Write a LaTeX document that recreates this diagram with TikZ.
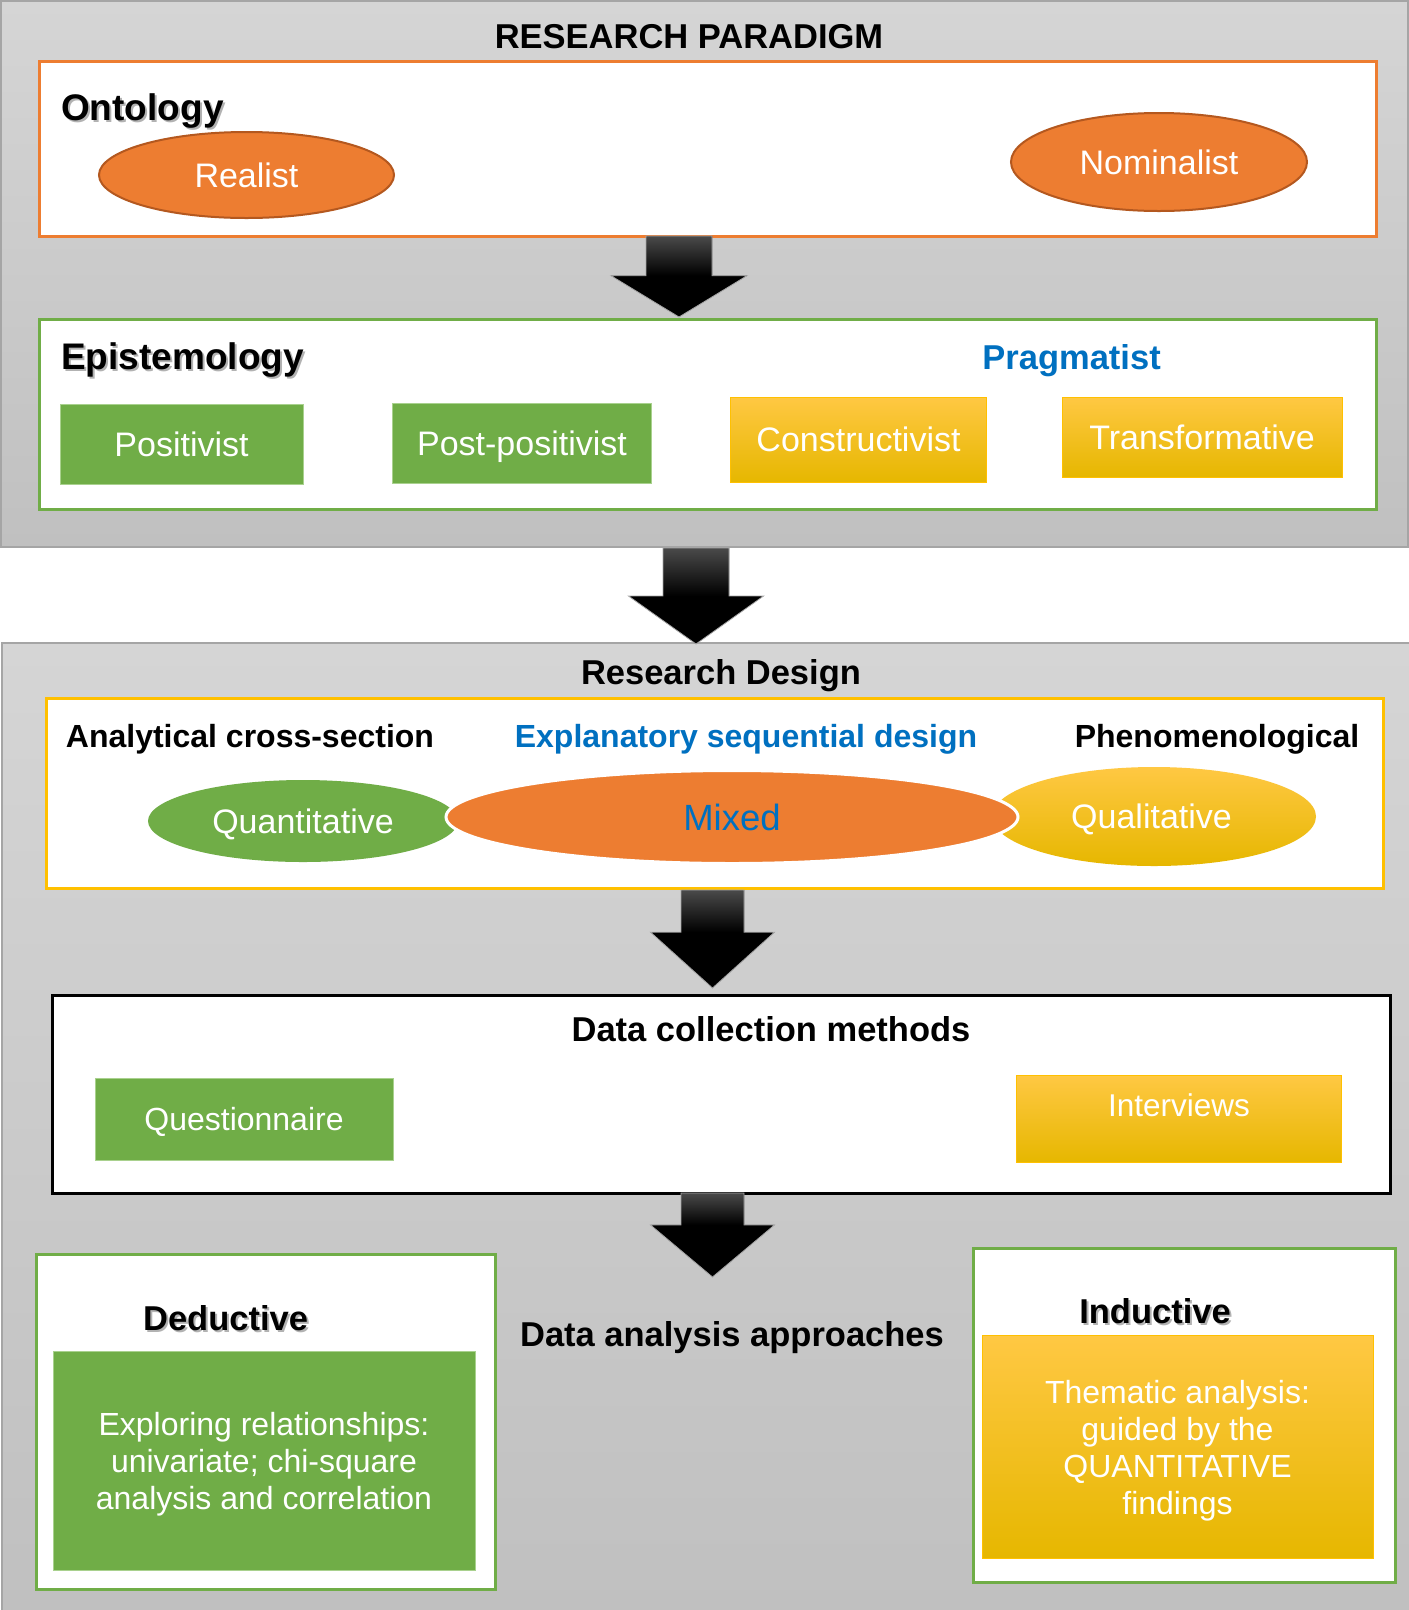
\documentclass[tikz,border=0pt]{standalone}
\usepackage{fontspec}
\setmainfont{Liberation Sans}
\usetikzlibrary{shapes.geometric,calc}
\definecolor{orng}{HTML}{ED7D31}
\definecolor{orngdk}{HTML}{B4581F}
\definecolor{grn}{HTML}{70AD47}
\definecolor{grnlt}{HTML}{A9D18E}
\definecolor{blu}{HTML}{0070C0}
\definecolor{gold}{HTML}{FFC000}
\definecolor{goldtop}{HTML}{FFC843}
\definecolor{goldmid}{HTML}{FFC400}
\definecolor{goldbot}{HTML}{E6B700}
\definecolor{paneltop}{HTML}{D5D5D5}
\definecolor{panelbot}{HTML}{C0C0C0}
\definecolor{panelbd}{HTML}{A5A5A5}
\definecolor{arrtop}{HTML}{4A4A4A}
\newcommand\shd[1]{\leavevmode\rlap{\kern2pt\raisebox{-2pt}{\color{black!30}#1}}#1}
\newcommand\blockarrow[5]{%
  \path[fill=black] let \p1=(#1), \p2=(#2), \n1={\y1+#3*(\y2-\y1)} in
  (\x1-#4pt,\y1) -- (\x1+#4pt,\y1) -- (\x1+#4pt,\n1) -- (\x1+#5pt,\n1) -- (\x2,\y2)
  -- (\x1-#5pt,\n1) -- (\x1-#4pt,\n1) -- cycle;
  \path[top color=arrtop, bottom color=black] let \p1=(#1), \p2=(#2), \n1={\y1+#3*(\y2-\y1)} in
  (\x1-#4pt,\y1) rectangle (\x1+#4pt,\n1);
  \path[draw=gray!70, line width=0.8pt] let \p1=(#1), \p2=(#2), \n1={\y1+#3*(\y2-\y1)} in
  (\x1-#4pt,\y1) -- (\x1+#4pt,\y1) -- (\x1+#4pt,\n1) -- (\x1+#5pt,\n1) -- (\x2,\y2)
  -- (\x1-#5pt,\n1) -- (\x1-#4pt,\n1) -- cycle;}
\tikzset{
  panel/.style={rectangle, draw=panelbd, line width=1.5pt, top color=paneltop, bottom color=panelbot, inner sep=0pt},
  frame/.style={rectangle, fill=white, line width=3pt, inner sep=0pt},
  gbox/.style={rectangle, fill=grn, draw=grnlt, line width=1pt, text=white, inner sep=0pt, text depth=0pt, font=\fontsize{34}{40}\selectfont},
  ybox/.style={rectangle, top color=goldtop, middle color=goldmid, bottom color=goldbot, draw=gold, line width=1pt, text=white, inner sep=0pt, text depth=0pt, font=\fontsize{34}{40}\selectfont},
  oell/.style={ellipse, fill=orng, draw=orngdk, line width=2pt, text=white, inner sep=0pt, font=\fontsize{34}{40}\selectfont},
  head/.style={inner sep=0pt, font=\bfseries\fontsize{34.5}{40}\selectfont},
  bighead/.style={inner sep=0pt, font=\bfseries\fontsize{37}{42}\selectfont},
  rowlab/.style={inner sep=0pt, font=\bfseries\fontsize{32}{38}\selectfont},
}
\begin{document}
\begin{tikzpicture}[x=1pt,y=-1pt]
\useasboundingbox (0,0) rectangle (1409,1610);
\fill[white] (0,0) rectangle (1409,1610);
% panels
\node[panel, minimum width=1407pt, minimum height=546pt] (par) at (704.5,274) {};
\node[panel, minimum width=1410pt, minimum height=970pt] (des) at (707,1128) {};
\node[head, anchor=base] (rp) at (689,48) {RESEARCH PARADIGM};
% ontology
\node[frame, draw=orng, minimum width=1337pt, minimum height=175pt] (onto) at (707.5,148.5) {};
\node[bighead, anchor=base west] (ontot) at (61,120) {\shd{Ontology}};
\node[oell, minimum width=295pt, minimum height=86pt] (real) at (246.5,175) {Realist};
\node[oell, minimum width=296pt, minimum height=98pt] (nomi) at (1159,162) {Nominalist};
% epistemology
\node[frame, draw=grn, minimum width=1337pt, minimum height=190pt] (epis) at (707.5,414) {};
\node[bighead, anchor=base west] (epist) at (61,369.5) {\shd{Epistemology}};
\node[head, text=blu, anchor=base] (prag) at (1071.6,369.5) {Pragmatist};
\node[gbox, minimum width=243pt, minimum height=80pt] (posi) at (181.5,444) {Positivist};
\node[gbox, minimum width=258.5pt, minimum height=80pt] (pposi) at (522,443) {Post-positivist};
\node[ybox, minimum width=256pt, minimum height=85pt] (cons) at (858.5,439.5) {Constructivist};
\node[ybox, minimum width=280pt, minimum height=80pt] (trans) at (1202,437) {Transformative};
% research design
\node[head, anchor=base] (rd) at (721,684) {Research Design};
\node[frame, draw=gold, minimum width=1337pt, minimum height=190pt] (dsgn) at (714.5,793) {};
\node[rowlab, anchor=base] (acs) at (250,747) {Analytical cross-section};
\node[rowlab, text=blu, anchor=base] (esd) at (746,747) {Explanatory sequential design};
\node[rowlab, anchor=base] (phen) at (1217,747) {Phenomenological};
\node[ellipse, fill=grn, text=white, inner sep=0pt, text depth=0pt, minimum width=310pt, minimum height=82pt, font=\fontsize{34}{40}\selectfont] (quan) at (303,821) {Quantitative};
\node[ellipse, top color=goldtop, middle color=goldmid, bottom color=goldbot, text=white, inner sep=0pt, text depth=0pt, minimum width=324pt, minimum height=99pt, font=\fontsize{34}{40}\selectfont] (qual) at (1154,816.5) {\hspace*{-5pt}Qualitative};
\node[ellipse, fill=orng, draw=white, line width=3pt, text=blu, inner sep=0pt, minimum width=572pt, minimum height=93pt, font=\fontsize{36.5}{42}\selectfont] (mix) at (732,817) {Mixed};
% data collection
\node[frame, draw=black, minimum width=1338pt, minimum height=198pt] (dcm) at (721,1094) {};
\node[head, anchor=base] (dcmt) at (771,1041) {Data collection methods};
\node[gbox, minimum width=298pt, minimum height=82pt, font=\fontsize{32}{38}\selectfont] (ques) at (244,1119) {Questionnaire};
\node[ybox, minimum width=324.5pt, minimum height=87pt, font=\fontsize{31.5}{38}\selectfont, text height=24pt, text depth=28.8pt] (intv) at (1179,1118.7) {Interviews};
% data analysis
\node[frame, draw=grn, minimum width=459pt, minimum height=335.5pt] (ded) at (265.5,1421.75) {};
\node[head, anchor=base] (dedt) at (225.6,1330) {\shd{Deductive}};
\node[gbox, minimum width=422pt, minimum height=219pt, align=center, font=\fontsize{32}{37}\selectfont] (dedb) at (264,1460.5) {Exploring relationships:\\univariate; chi-square\\analysis and correlation};
\node[head, anchor=base] (daa) at (732,1346) {Data analysis approaches};
\node[frame, draw=grn, minimum width=422pt, minimum height=334.6pt] (ind) at (1184,1415.3) {};
\node[head, anchor=base] (indt) at (1155,1323.5) {\shd{Inductive}};
\node[ybox, minimum width=391pt, minimum height=223pt, align=center, font=\fontsize{32}{37}\selectfont] (indb) at (1177.5,1447) {Thematic analysis:\\guided by the\\QUANTITATIVE\\findings};
% arrows
\coordinate (a1s) at (679,236);   \coordinate (a1t) at (679,317);
\coordinate (a2s) at (696,548);   \coordinate (a2t) at (696,644);
\coordinate (a3s) at (712.5,890); \coordinate (a3t) at (712.5,988);
\coordinate (a4s) at (712.5,1193);\coordinate (a4t) at (712.5,1277);
\blockarrow{a1s}{a1t}{0.49}{33}{68}
\blockarrow{a2s}{a2t}{0.50}{33}{67.5}
\blockarrow{a3s}{a3t}{0.43}{31.5}{62}
\blockarrow{a4s}{a4t}{0.38}{31.5}{62}
\end{tikzpicture}
\end{document}
